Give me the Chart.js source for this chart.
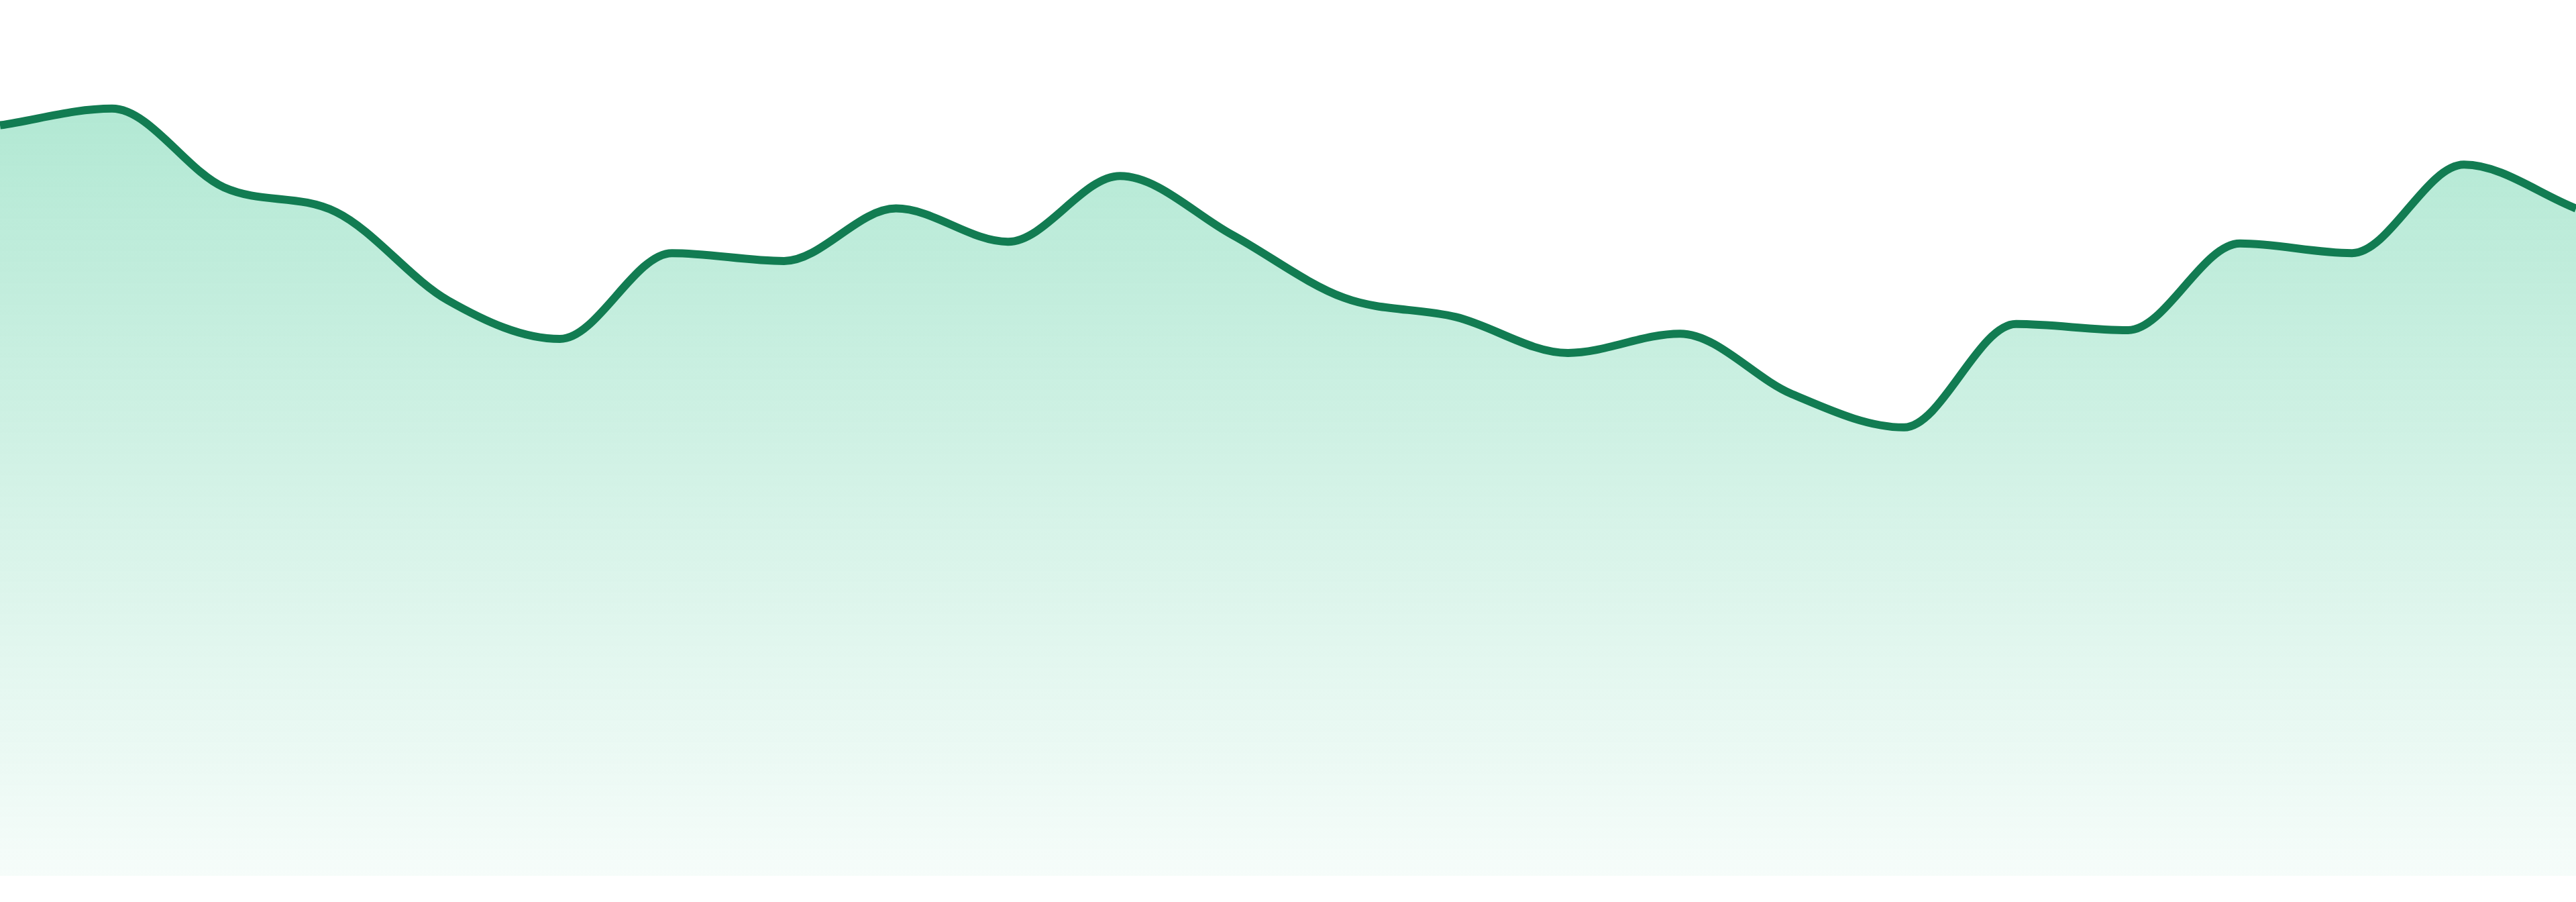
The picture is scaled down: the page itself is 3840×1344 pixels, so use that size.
<!DOCTYPE html>
<html>
<head>
<meta charset="utf-8">
<script src="https://cdn.jsdelivr.net/npm/chart.js@4.4.1/dist/chart.umd.min.js"></script>
<style>
  html, body { margin: 0; padding: 0; background: #ffffff; }
  #wrap { width: 3840px; height: 1344px; position: relative; }
</style>
</head>
<body>
<div id="wrap"><canvas id="trend"></canvas></div>
<script>
// one label per point, no axis text is shown
const labels = [
  "1", "2", "3", "4", "5", "6", "7", "8", "9", "10", "11", "12",
  "13", "14", "15", "16", "17", "18", "19", "20", "21", "22", "23", "24"
];

const values = [
  85.7, 87.6, 78.6, 75.8, 65.7, 61.3, 71.1, 70.2, 76.2, 72.4, 79.9, 73.2,
  66.0, 63.8, 59.7, 61.9, 55.0, 51.2, 63.0, 62.3, 72.2, 71.1, 81.2, 76.2
];

const yMin = 0;
const yMax = 100;

const lineColor = "rgb(18, 124, 82)";

function areaFill(context) {
  const chart = context.chart;
  const area = chart.chartArea;
  if (!area) return "rgba(16, 185, 120, 0.2)";
  const g = chart.ctx.createLinearGradient(0, area.top, 0, area.bottom);
  g.addColorStop(0, "rgba(16, 185, 120, 0.36)");
  g.addColorStop(1, "rgba(16, 185, 120, 0.04)");
  return g;
}

new Chart(document.getElementById("trend"), {
  type: "line",
  data: {
    labels: labels,
    datasets: [
      {
        data: values,
        borderColor: lineColor,
        borderWidth: 12,
        backgroundColor: areaFill,
        fill: "origin",
        cubicInterpolationMode: "monotone",
        pointRadius: 0,
        pointHoverRadius: 0,
      },
    ],
  },
  options: {
    responsive: true,
    maintainAspectRatio: false,
    animation: false,
    devicePixelRatio: 1,
    layout: {
      padding: { top: 0, left: 0, right: 0, bottom: 39 },
    },
    plugins: {
      legend: { display: false },
      tooltip: { enabled: false },
    },
    scales: {
      x: {
        display: false,
        offset: false,
      },
      y: {
        display: false,
        min: yMin,
        max: yMax,
      },
    },
  },
});
</script>
</body>
</html>
